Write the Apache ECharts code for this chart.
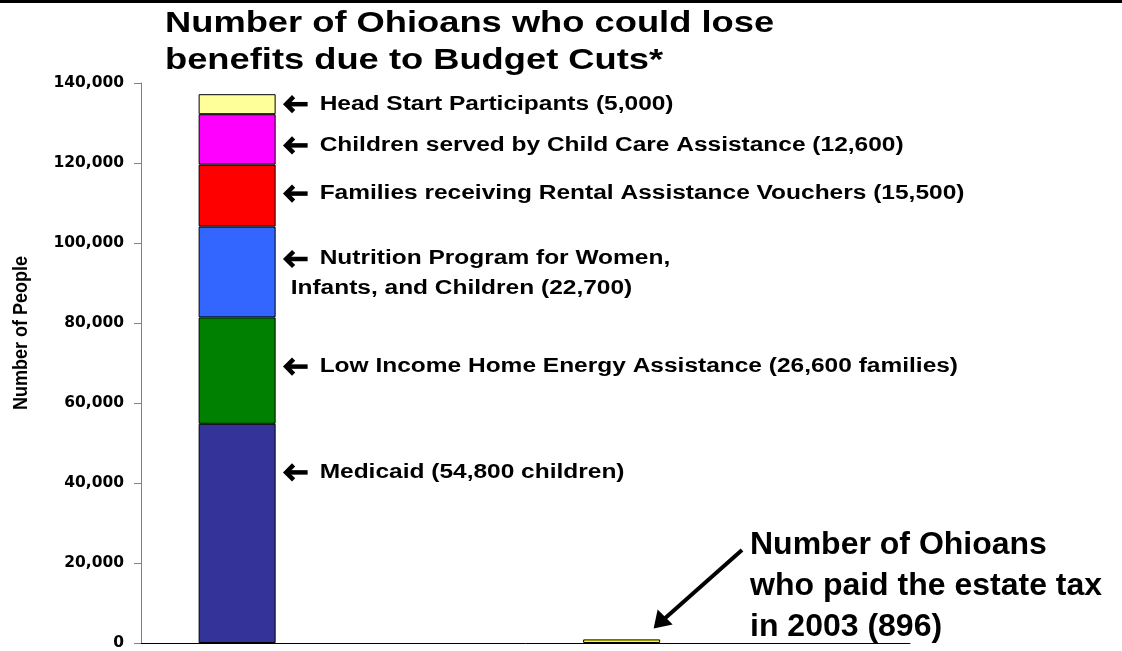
<!DOCTYPE html>
<html>
<head>
<meta charset="utf-8">
<script src="https://cdn.jsdelivr.net/npm/echarts@6/dist/echarts.min.js"></script>
<style>
  html, body { margin: 0; padding: 0; background: #fff; }
  #chart { width: 1122px; height: 651px; }
</style>
</head>
<body>
<div id="chart"></div>
<script>
// categories (only the 1st and 3rd slot carry a bar)
const categories = ['Budget Cuts', '', 'Estate Tax', ''];

// programs, bottom to top of the stack
const programNames = [
  'Medicaid (54,800 children)',
  'Low Income Home Energy Assistance (26,600 families)',
  'Nutrition Program for Women,\nInfants, and Children (22,700)',
  'Families receiving Rental Assistance Vouchers (15,500)',
  'Children served by Child Care Assistance (12,600)',
  'Head Start Participants (5,000)'
];
const programValues = [54800, 26600, 22700, 15500, 12600, 5000];
const programColors = ['#333399', '#008000', '#3366FF', '#FF0000', '#FF00FF', '#FFFF99'];

const estateTaxValue = 896;
const estateTaxNote = ['Number of Ohioans', 'who paid the estate tax', 'in 2003 (896)'];

const titleLines = ['Number of Ohioans who could lose', 'benefits due to Budget Cuts*'];
const yAxisTitle = 'Number of People';
const yMax = 140000;
const yStep = 20000;

// label nudges in px (a label is not always at its segment middle)
const labelNudge = [-61, -4, 2, -2, 6, 0];

const FONT = '"Liberation Sans", Arial, Helvetica, sans-serif';
const BAR_W = 77;
const STRETCH = 1.25;   // chart text in the original is drawn wide

const chart = echarts.init(document.getElementById('chart'));

const series = programValues.map((v, i) => ({
  name: programNames[i],
  type: 'bar',
  stack: 'total',
  barWidth: BAR_W,
  data: [v, null, null, null],
  itemStyle: { color: programColors[i], borderColor: '#000', borderWidth: 1 },
  emphasis: { disabled: true }
}));
series.push({
  name: 'Estate tax',
  type: 'bar',
  stack: 'total',
  barWidth: BAR_W,
  data: [null, null, estateTaxValue, null],
  itemStyle: { color: '#FFFF00', borderColor: '#000', borderWidth: 1 },
  emphasis: { disabled: true }
});

chart.setOption({
  animation: false,
  backgroundColor: '#fff',
  grid: { left: 141, right: 212, top: 83, bottom: 8 },
  xAxis: {
    type: 'category',
    data: categories,
    axisLine: { lineStyle: { color: '#000', width: 1 } },
    axisTick: { show: false },
    axisLabel: { show: false }
  },
  yAxis: {
    type: 'value',
    min: 0,
    max: yMax,
    interval: yStep,
    axisLine: { show: true, lineStyle: { color: '#808080', width: 1 } },
    axisTick: { show: true, length: 7, lineStyle: { color: '#808080' } },
    splitLine: { show: false },
    axisLabel: {
      fontFamily: '"DejaVu Sans", sans-serif', fontWeight: 'bold', fontSize: 15.5, color: '#000', margin: 17,
      formatter: v => v.toLocaleString('en-US')
    }
  },
  series: series
});

function arrowMark(x, y) {
  return [
    { type: 'line', shape: { x1: x + 2, y1: y, x2: x + 23, y2: y }, style: { stroke: '#000', lineWidth: 4.5 } },
    { type: 'polyline', shape: { points: [[x + 9, y - 7.5], [x + 1.5, y], [x + 9, y + 7.5]] },
      style: { stroke: '#000', lineWidth: 4.5, fill: null, lineJoin: 'miter' } }
  ];
}

// annotations placed through the chart's own scales
function annotate() {
  const barRight = chart.convertToPixel({ xAxisIndex: 0 }, 0) + BAR_W / 2;
  const arrowX = barRight + 9;
  const textX = barRight + 44;
  const g = [];
  let base = 0;
  programValues.forEach((v, i) => {
    const mid = chart.convertToPixel({ yAxisIndex: 0 }, base + v / 2) + labelNudge[i];
    base += v;
    const lines = programNames[i].split('\n');
    const gap = 30;
    const y0 = mid - (lines.length - 1) * gap / 2;
    lines.forEach((t, k) => {
      g.push({
        type: 'text',
        x: k === 0 ? textX : arrowX + 6,
        y: y0 + k * gap,
        scaleX: STRETCH,
        style: { text: t, fontFamily: FONT, fontWeight: 'bold', fontSize: 19.6, fill: '#000', verticalAlign: 'middle' }
      });
    });
    g.push(...arrowMark(arrowX, y0));
  });

  // title
  g.push({
    type: 'text', x: 165, y: 5, scaleX: 1.21,
    style: { text: titleLines.join('\n'), fontFamily: FONT, fontWeight: 'bold', fontSize: 30, lineHeight: 37, fill: '#000', verticalAlign: 'top' }
  });
  // y axis title
  g.push({
    type: 'text', x: 21, y: 333, rotation: Math.PI / 2, scaleY: 1.15,
    style: { text: yAxisTitle, fontFamily: FONT, fontWeight: 'bold', fontSize: 18, fill: '#000', align: 'center', verticalAlign: 'middle' }
  });
  // note next to the small bar
  g.push({
    type: 'text', x: 750, y: 525,
    style: { text: estateTaxNote.join('\n'), fontFamily: FONT, fontWeight: 'bold', fontSize: 32, lineHeight: 41, fill: '#000', verticalAlign: 'top' }
  });
  const tipX = chart.convertToPixel({ xAxisIndex: 0 }, 2) + 32;
  const tipY = chart.convertToPixel({ yAxisIndex: 0 }, estateTaxValue) - 11;
  g.push({
    type: 'line',
    shape: { x1: 742, y1: 550, x2: tipX + 10, y2: tipY - 9 },
    style: { stroke: '#000', lineWidth: 4 }
  });
  g.push({
    type: 'polygon',
    shape: { points: [[tipX, tipY], [tipX + 4, tipY - 19], [tipX + 19, tipY - 4]] },
    style: { fill: '#000' }
  });
  // frame line at the very top
  g.push({ type: 'rect', shape: { x: 0, y: 0, width: 1122, height: 3 }, style: { fill: '#000' } });
  chart.setOption({ graphic: g });
}
annotate();
</script>
</body>
</html>
